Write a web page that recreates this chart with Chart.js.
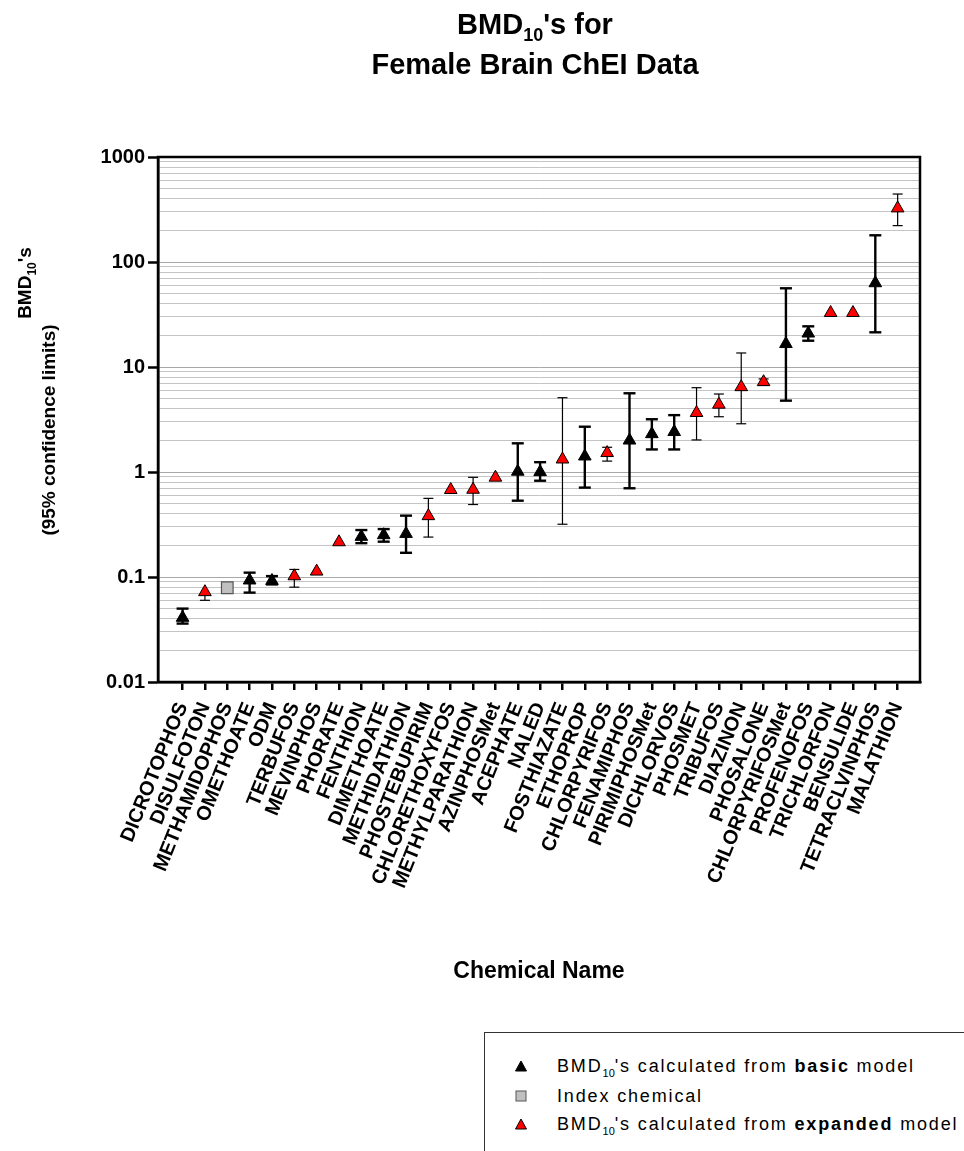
<!DOCTYPE html>
<html><head><meta charset="utf-8">
<script src="https://cdn.jsdelivr.net/npm/chart.js@4.4.0/dist/chart.umd.min.js"></script>
<style>
html,body{margin:0;padding:0;background:#fff;width:964px;height:1151px;overflow:hidden;position:relative;font-family:"Liberation Sans",Arial,sans-serif;color:#000;}
#c{position:absolute;left:0;top:0;}
#title{position:absolute;left:285px;width:500px;top:4px;text-align:center;font-weight:bold;font-size:29px;line-height:40px;}
#title sub{font-size:18px;line-height:0;vertical-align:-7px;}
.ytitle{position:absolute;left:0;top:0;white-space:nowrap;font-weight:bold;font-size:19px;line-height:24px;transform:translate(-50%,-50%) rotate(-90deg);}
.ytitle sub{font-size:12px;line-height:0;vertical-align:-5px;}
#legend{position:absolute;left:484px;top:1032px;width:520px;height:160px;border:1px solid #333;box-sizing:border-box;background:#fff;}
.row{position:absolute;left:0;width:520px;height:24px;}
.row svg{position:absolute;left:30px;top:6px;}
.row span{position:absolute;left:72px;top:0;line-height:24px;font-size:18px;letter-spacing:1.85px;white-space:nowrap;}
.row sub{font-size:11px;line-height:0;vertical-align:-5px;letter-spacing:0;}
</style>
</head><body>
<canvas id="c" width="964" height="1151"></canvas>
<div id="title">BMD<sub>10</sub>'s for<br>Female Brain ChEI Data</div>
<div class="ytitle" style="left:25px;top:283px">BMD<sub>10</sub>'s</div>
<div class="ytitle" style="left:49px;top:430px">(95% confidence limits)</div>
<div id="legend">
  <div class="row" style="top:21px"><svg width="12" height="12"><polygon points="6,1 11.5,11 0.5,11" fill="#000" stroke="#000" stroke-width="1"/></svg><span>BMD<sub>10</sub>'s calculated from <b>basic</b> model</span></div>
  <div class="row" style="top:51px"><svg width="12" height="12"><rect x="1" y="1" width="10" height="10" fill="#c0c0c0" stroke="#555" stroke-width="1"/></svg><span>Index chemical</span></div>
  <div class="row" style="top:79px"><svg width="12" height="12"><polygon points="6,1 11.5,11 0.5,11" fill="#ff0000" stroke="#000" stroke-width="1"/></svg><span>BMD<sub>10</sub>'s calculated from <b>expanded</b> model</span></div>
</div>
<script>
// ---- data ----
const chemicals = ['DICROTOPHOS','DISULFOTON','METHAMIDOPHOS','OMETHOATE','ODM','TERBUFOS','MEVINPHOS','PHORATE','FENTHION','DIMETHOATE','METHIDATHION','PHOSTEBUPIRIM','CHLORETHOXYFOS','METHYLPARATHION','AZINPHOSMet','ACEPHATE','NALED','FOSTHIAZATE','ETHOPROP','CHLORPYRIFOS','FENAMIPHOS','PIRIMIPHOSMet','DICHLORVOS','PHOSMET','TRIBUFOS','DIAZINON','PHOSALONE','CHLORPYRIFOSMet','PROFENOFOS','TRICHLORFON','BENSULIDE','TETRACLVINPHOS','MALATHION'];
const bmd10 = [0.041,0.072,0.079,0.093,0.092,0.102,0.113,0.215,0.242,0.251,0.258,0.381,0.676,0.68,0.886,1.01,1.0,1.32,1.41,1.52,2.0,2.3,2.41,3.66,4.39,6.45,7.2,16.6,20.9,32.8,32.8,63,325];
const lowerCL = [0.036,0.060,null,0.071,0.085,0.080,null,null,0.21,0.217,0.170,0.240,null,0.49,null,0.533,0.826,0.318,0.71,1.27,0.70,1.64,1.64,2.02,3.36,2.88,6.7,4.78,17.8,null,null,21.4,222];
const upperCL = [0.050,null,null,0.110,0.102,0.118,null,null,0.28,0.286,0.384,0.561,null,0.89,null,1.876,1.24,5.1,2.70,1.72,5.62,3.18,3.48,6.35,5.53,13.6,7.7,56.2,24.4,null,null,179.6,444];
const modelType = ['basic','expanded','index','basic','basic','expanded','expanded','expanded','basic','basic','basic','expanded','expanded','expanded','expanded','basic','basic','expanded','basic','expanded','basic','basic','basic','expanded','expanded','expanded','expanded','basic','basic','expanded','expanded','basic','expanded'];
const yTickValues = [0.01,0.02,0.03,0.04,0.05,0.06,0.07,0.08,0.09,0.1,0.2,0.3,0.4,0.5,0.6,0.7,0.8,0.9,1,2,3,4,5,6,7,8,9,10,20,30,40,50,60,70,80,90,100,200,300,400,500,600,700,800,900,1000];
const yTickLabels = {'0.01':'0.01','0.1':'0.1','1':'1','10':'10','100':'100','1000':'1000'};

function pointsFor(kind){
  const out=[];
  chemicals.forEach((c,i)=>{ if(modelType[i]===kind) out.push({x:i,y:bmd10[i],lo:lowerCL[i],hi:upperCL[i]}); });
  return out;
}

Chart.defaults.font.family = "'Liberation Sans', Arial, sans-serif";
Chart.defaults.color = '#000';

const errorBars = {
  id:'errorBars',
  beforeDatasetsDraw(chart){
    const ctx=chart.ctx, xs=chart.scales.x, ys=chart.scales.y;
    chart.data.datasets.forEach((ds)=>{
      const st = ds.errStyle; if(!st) return;
      ds.data.forEach(d=>{
        const px = xs.getPixelForValue(d.x), py = ys.getPixelForValue(d.y);
        ctx.save(); ctx.strokeStyle='#000'; ctx.lineWidth=st.w; ctx.lineCap='butt';
        [d.lo,d.hi].forEach(v=>{
          if(v==null) return;
          const pv = ys.getPixelForValue(v);
          ctx.beginPath(); ctx.moveTo(px,py); ctx.lineTo(px,pv); ctx.stroke();
          ctx.beginPath(); ctx.moveTo(px-st.cap,pv); ctx.lineTo(px+st.cap,pv); ctx.stroke();
        });
        ctx.restore();
      });
    });
  }
};
const frame = {
  id:'frame',
  afterDraw(chart){
    const a=chart.chartArea, ctx=chart.ctx;
    ctx.save(); ctx.strokeStyle='#000'; ctx.lineWidth=2.5;
    ctx.strokeRect(a.left,a.top,a.right-a.left,a.bottom-a.top);
    ctx.restore();
  }
};

new Chart(document.getElementById('c'),{
  type:'scatter',
  data:{datasets:[
    {label:"BMD10's calculated from basic model",data:pointsFor('basic'),pointStyle:'triangle',pointRadius:7.3,pointBackgroundColor:'#000',pointBorderColor:'#000',pointBorderWidth:1,errStyle:{w:2.4,cap:6}},
    {label:'Index chemical',data:pointsFor('index'),pointStyle:'rect',pointRadius:8.2,pointBackgroundColor:'#c0c0c0',pointBorderColor:'#555',pointBorderWidth:1.2},
    {label:"BMD10's calculated from expanded model",data:pointsFor('expanded'),pointStyle:'triangle',pointRadius:7.3,pointBackgroundColor:'#ff0000',pointBorderColor:'#000',pointBorderWidth:1,errStyle:{w:1.2,cap:5}}
  ]},
  options:{
    responsive:false, animation:false, devicePixelRatio:1,
    layout:{padding:{left:0,top:157,right:44,bottom:159}},
    plugins:{legend:{display:false},tooltip:{enabled:false},title:{display:false}},
    scales:{
      x:{type:'linear',min:-1.1,max:33,
        afterBuildTicks:(s)=>{ s.ticks = chemicals.map((c,i)=>({value:i})); },
        afterFit:(s)=>{ s.height=310; },
        ticks:{autoSkip:false,minRotation:68,maxRotation:68,padding:9,font:{size:20,weight:'bold'},color:'#000',
          callback:(v)=>chemicals[v]},
        grid:{display:true,drawOnChartArea:false,drawTicks:true,tickLength:8,color:'#000',lineWidth:2.5},
        border:{display:true,color:'#000',width:2.5},
        title:{display:true,text:'Chemical Name',font:{size:23,weight:'bold'},color:'#000',padding:{top:0,bottom:7}}
      },
      y:{type:'logarithmic',min:0.01,max:1000,
        afterBuildTicks:(s)=>{ s.ticks = yTickValues.map(v=>({value:v,major:(String(v) in yTickLabels)})); },
        afterFit:(s)=>{ s.width=158; },
        ticks:{autoSkip:false,padding:3,font:{size:20,weight:'bold'},color:'#000',
          callback:(v)=>yTickLabels[String(v)]||''},
        grid:{display:true,drawOnChartArea:true,drawTicks:true,tickLength:10,
          color:(c)=> (c.tick && c.tick.major) ? '#a8a8a8' : '#c4c4c4',
          lineWidth:1,
          tickColor:(c)=> (c.tick && c.tick.major) ? '#000' : 'rgba(0,0,0,0)',
          tickWidth:2.5},
        border:{display:true,color:'#000',width:2.5},
        title:{display:false}
      }
    }
  },
  plugins:[errorBars,frame]
});
</script>
</body></html>
